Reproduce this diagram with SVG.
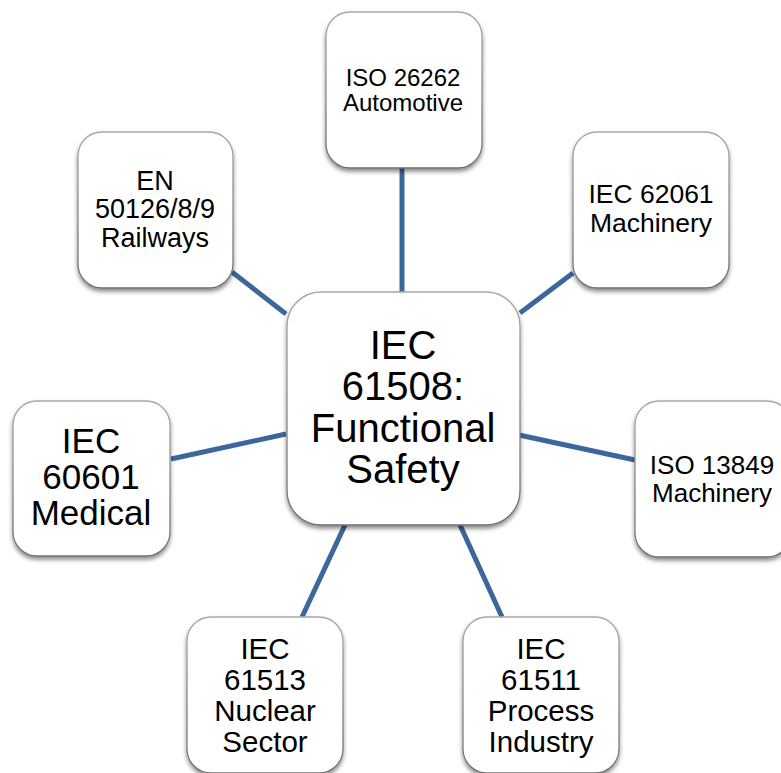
<svg xmlns="http://www.w3.org/2000/svg" width="781" height="773" viewBox="0 0 781 773">
  <style>
    .box { fill: #ffffff; stroke: url(#edge); stroke-width: 1.3; filter: url(#shadow); }
    .lbl { font-family: "Liberation Sans", Arial, sans-serif; fill: #000000; text-anchor: middle; }
    .link { stroke: #3d679b; stroke-width: 5; fill: none; }
  </style>
  <defs>
    <linearGradient id="edge" x1="0" y1="0" x2="0" y2="1">
      <stop offset="0" stop-color="#a8a8a8"/>
      <stop offset="1" stop-color="#6e6e6e"/>
    </linearGradient>
    <filter id="shadow" x="-10%" y="-10%" width="120%" height="125%">
      <feDropShadow dx="0" dy="3" stdDeviation="2" flood-color="#000000" flood-opacity="0.45"/>
    </filter>
  </defs>

  <!-- spokes from the hub to each standard -->
  <g id="connectors">
    <line class="link" x1="402" y1="168" x2="402" y2="292"/>
    <line class="link" x1="232" y1="272" x2="286" y2="314"/>
    <line class="link" x1="573" y1="273" x2="520" y2="313"/>
    <line class="link" x1="171" y1="459" x2="286" y2="434"/>
    <line class="link" x1="519" y1="435" x2="635" y2="460"/>
    <line class="link" x1="345" y1="525" x2="302" y2="617"/>
    <line class="link" x1="460" y1="525" x2="502" y2="617"/>
  </g>

  <g id="hub">
    <rect class="box" x="287" y="292" width="233" height="233" rx="34"/>
    <g font-size="40">
      <text class="lbl" x="403" y="359">IEC</text>
      <text class="lbl" x="403" y="400">61508:</text>
      <text class="lbl" x="403" y="442">Functional</text>
      <text class="lbl" x="403" y="483">Safety</text>
    </g>
  </g>

  <g id="iso26262">
    <rect class="box" x="326" y="12" width="156" height="156" rx="24"/>
    <g font-size="24">
      <text class="lbl" x="403" y="86">ISO 26262</text>
      <text class="lbl" x="403" y="111">Automotive</text>
    </g>
  </g>

  <g id="en50126">
    <rect class="box" x="78" y="132" width="155" height="156" rx="24"/>
    <g font-size="27">
      <text class="lbl" x="155" y="190">EN</text>
      <text class="lbl" x="155" y="218">50126/8/9</text>
      <text class="lbl" x="155" y="247">Railways</text>
    </g>
  </g>

  <g id="iec62061">
    <rect class="box" x="573" y="132" width="156" height="156" rx="24"/>
    <g font-size="26.5">
      <text class="lbl" x="651" y="203">IEC 62061</text>
      <text class="lbl" x="651" y="232">Machinery</text>
    </g>
  </g>

  <g id="iec60601">
    <rect class="box" x="13" y="401" width="157" height="155" rx="24"/>
    <g font-size="35">
      <text class="lbl" x="91" y="453">IEC</text>
      <text class="lbl" x="91" y="489">60601</text>
      <text class="lbl" x="91" y="525">Medical</text>
    </g>
  </g>

  <g id="iso13849">
    <rect class="box" x="635" y="401" width="156" height="156" rx="24"/>
    <g font-size="26">
      <text class="lbl" x="712" y="474">ISO 13849</text>
      <text class="lbl" x="712" y="502">Machinery</text>
    </g>
  </g>

  <g id="iec61513">
    <rect class="box" x="187" y="617" width="156" height="156" rx="24"/>
    <g font-size="29.5">
      <text class="lbl" x="265" y="659">IEC</text>
      <text class="lbl" x="265" y="690">61513</text>
      <text class="lbl" x="265" y="721">Nuclear</text>
      <text class="lbl" x="265" y="752">Sector</text>
    </g>
  </g>

  <g id="iec61511">
    <rect class="box" x="463" y="617" width="156" height="156" rx="24"/>
    <g font-size="29.5">
      <text class="lbl" x="541" y="659">IEC</text>
      <text class="lbl" x="541" y="690">61511</text>
      <text class="lbl" x="541" y="721">Process</text>
      <text class="lbl" x="541" y="752">Industry</text>
    </g>
  </g>
</svg>
